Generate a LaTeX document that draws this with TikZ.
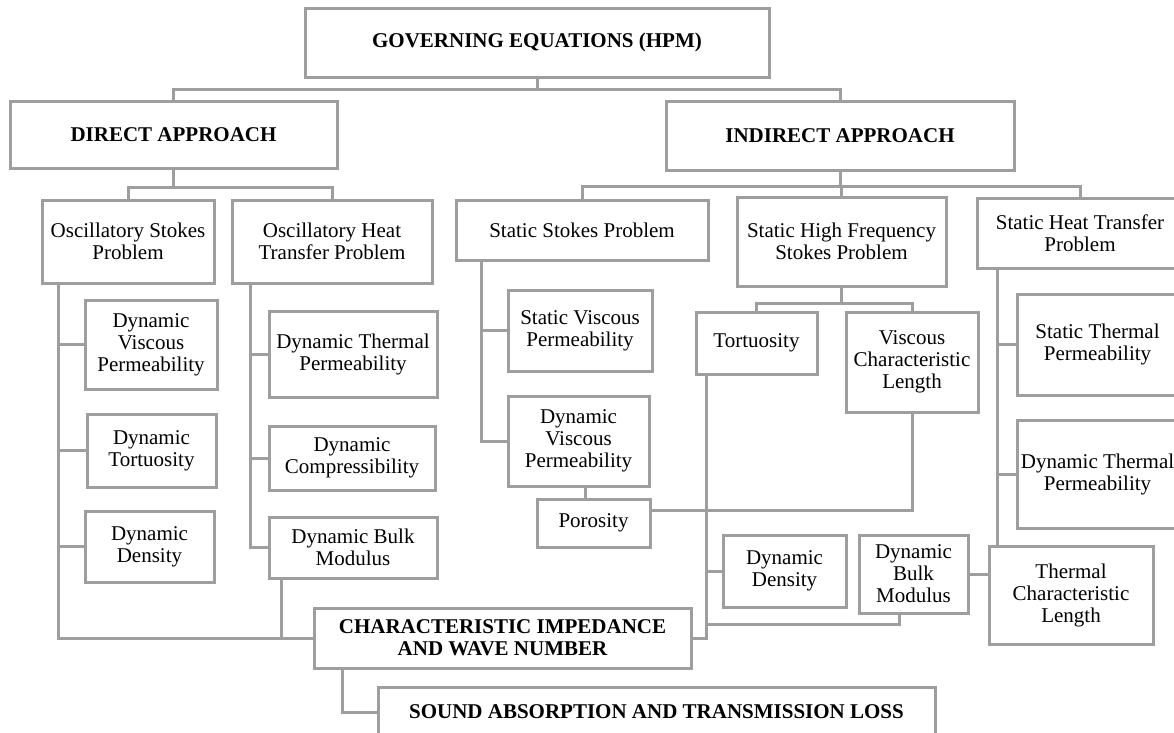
\documentclass[tikz,border=0pt]{standalone}
\usepackage{fontspec}
\setmainfont{Liberation Serif}
\usepackage{tikz}
\usetikzlibrary{calc, positioning}
\definecolor{linegray}{RGB}{158,158,158}

\begin{document}
\begin{tikzpicture}[x=1pt, y=-1pt,
		box/.style={draw=linegray, line width=3pt, align=center, inner sep=0pt, font=\fontsize{21}{22}\selectfont},
		hbox/.style={box, font=\fontsize{21}{22}\selectfont\bfseries},
		link/.style={draw=linegray, line width=3pt},
		sz/.style 2 args={minimum width=#1pt, minimum height=#2pt}]
		\useasboundingbox (0,0) rectangle (1174,732);
		\clip (0,0) rectangle (1174,732);
		
		% Top level
		\node[hbox, sz={464}{69}] (gov) at (537,42.5) {GOVERNING EQUATIONS (HPM)};
		\node[hbox, sz={327}{67}] (direct) at (173.5,134.5) {DIRECT APPROACH};
		\node[hbox, sz={348}{69}] (indirect) at (840,135.5) {INDIRECT APPROACH};
		
		% Direct approach
		\node[box, sz={172}{83}] (osp) at (128,241.5) {Oscillatory Stokes\\Problem};
		\node[box, sz={200}{83}] (ohtp) at (332,241.5) {Oscillatory Heat\\Transfer Problem};
		\node[box, sz={132}{89}] (dvpL) at (151,344.5) {Dynamic\\Viscous\\Permeability};
		\node[box, sz={129}{73}] (dtL) at (151.5,450.5) {Dynamic\\Tortuosity};
		\node[box, sz={129}{71}] (ddL) at (149.5,546.5) {Dynamic\\Density};
		\node[box, sz={168}{86}] (dtpL) at (353,354) {Dynamic Thermal\\Permeability};
		\node[box, sz={166}{64}] (dc) at (352,458) {Dynamic\\Compressibility};
		\node[box, sz={168}{61}] (dbmL) at (353,547.5) {Dynamic Bulk\\Modulus};
		
		% Indirect approach
		\node[box, sz={252}{60}] (ssp) at (582,230) {Static Stokes Problem};
		\node[box, sz={209}{89}] (shfsp) at (841.5,241.5) {Static High Frequency\\Stokes Problem};
		\node[box, sz={206}{70}] (shtp) at (1080,233) {Static Heat Transfer\\Problem};
		\node[box, sz={144}{81}] (svp) at (580,330.5) {Static Viscous\\Permeability};
		\node[box, sz={141}{90}] (dvpM) at (578.5,441) {Dynamic\\Viscous\\Permeability};
		\node[box, sz={113}{48}] (poro) at (593.5,523) {Porosity};
		\node[box, sz={121}{62}] (tort) at (756.5,343) {Tortuosity};
		\node[box, sz={132}{100}] (vcl) at (912,362) {Viscous\\Characteristic\\Length};
		\node[box, sz={123}{72}] (ddR) at (784.5,571) {Dynamic\\Density};
		\node[box, sz={109}{78}] (dbmR) at (913.5,574) {Dynamic\\Bulk\\Modulus};
		\node[box, sz={161}{101}] (stp) at (1097.5,344.5) {Static Thermal\\Permeability};
		\node[box, sz={161}{108}] (dtpR) at (1097.5,474) {Dynamic Thermal\\Permeability};
		\node[box, sz={164}{98}] (tcl) at (1071,595) {Thermal\\Characteristic\\Length};
		
		% Results
		\node[hbox, sz={377}{60}] (ciwn) at (502.5,638) {CHARACTERISTIC IMPEDANCE\\AND WAVE NUMBER};
		\node[hbox, sz={557}{50}] (satl) at (656.5,712) {SOUND ABSORPTION AND TRANSMISSION LOSS};
		
		% Upper connectors
		\draw[link] (gov.south) -- ++(0,11) coordinate (govbus) -| (direct.north);
		\draw[link] (govbus) -| (indirect.north);
		\draw[link] (direct.south) -- ++(0,18) coordinate (dirbus) -| (osp.north);
		\draw[link] (dirbus) -| (ohtp.north);
		\draw[link] (indirect.south) -- ++(0,15) coordinate (indbus) -| (ssp.north);
		\draw[link] (indbus) -| (shfsp.north);
		\draw[link] (indbus) -| (shtp.north);
		
		% Direct trunks
		\coordinate (ospt) at ($(osp.south west)+(18,0)$);
		\draw[link] (ospt) |- (ciwn.west);
		\foreach \n in {dvpL,dtL,ddL} \draw[link] (ospt) |- (\n.west);
		\coordinate (ohtpt) at ($(ohtp.south west)+(20,0)$);
		\foreach \n in {dtpL,dc,dbmL} \draw[link] (ohtpt) |- (\n.west);
		\coordinate (dbmLt) at ($(dbmL.south west)+(14,0)$);
		\draw[link] (dbmLt) -- (dbmLt |- ciwn.west);
		
		% Indirect trunks
		\coordinate (sspt) at ($(ssp.south west)+(27,0)$);
		\foreach \n in {svp,dvpM} \draw[link] (sspt) |- (\n.west);
		\coordinate (porot) at ($(poro.north west)+(50,0)$);
		\draw[link] (porot) -- (porot |- dvpM.south);
		\coordinate (porol) at ($(poro.north east)+(0,13)$);
		\draw[link] (porol) -| (vcl.south);
		\draw[link] (shfsp.south) -- ++(0,16) coordinate (hfbus) -| (tort.north);
		\draw[link] (hfbus) -| (vcl.north);
		\coordinate (tortt) at ($(tort.south west)+(12,0)$);
		\draw[link] (tortt) |- (ciwn.east);
		\draw[link] (tortt) |- (ddR.west);
		\coordinate (dbmRt) at ($(dbmR.south)+(-14.5,0)$);
		\draw[link] (dbmRt) -- ++(0,10) coordinate (dbmRb) -- (dbmRb -| tortt);
		\draw[link] (dbmR.east) -- (dbmR.east -| tcl.west);
		\coordinate (shtpt) at ($(shtp.south west)+(22,0)$);
		\draw[link] (shtpt) -- (shtpt |- tcl.north);
		\foreach \n in {stp,dtpR} \draw[link] (shtpt) |- (\n.west);
		
		% Results link
		\coordinate (ciwnt) at ($(ciwn.south west)+(30,0)$);
		\draw[link] (ciwnt) |- (satl.west);
	\end{tikzpicture}
\end{document}
